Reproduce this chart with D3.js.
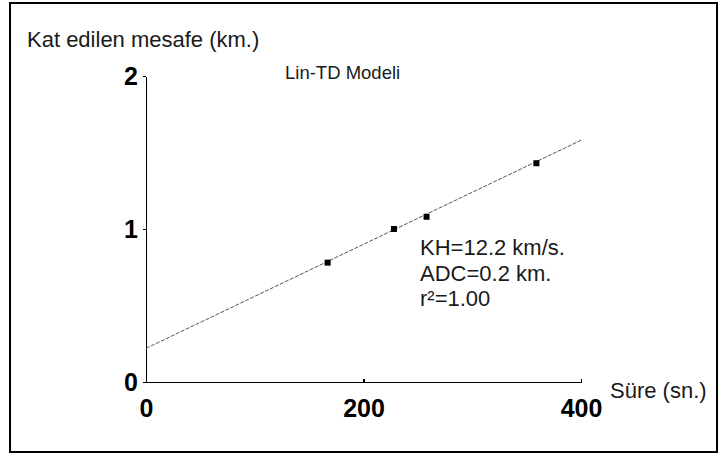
<!DOCTYPE html>
<html>
<head>
  <meta charset="utf-8">
  <title>Lin-TD Modeli</title>
  <script src="https://cdn.jsdelivr.net/npm/d3@7"></script>
  <style>
    body { margin: 0; background: #fff; }
    .lbl { font-family: "Liberation Sans", Arial, sans-serif; fill: #1a1a1a; }
    .tick text { font-family: "Liberation Sans", Arial, sans-serif; font-weight: bold; font-size: 25px; fill: #000; }
    .axis path, .axis line { stroke: #000; stroke-width: 1.3; shape-rendering: crispEdges; }
  </style>
</head>
<body>
<script>
  // Data
  var sureValues = [167, 228, 258, 359];       // Süre (sn.)
  var mesafeValues = [0.78, 1.00, 1.08, 1.43]; // Kat edilen mesafe (km.)
  var fitX = [0, 400];
  var fitY = [0.22, 1.58];
  var xTicks = [0, 200, 400];
  var yTicks = [0, 1, 2];
  var notes = ["KH=12.2 km/s.", "ADC=0.2 km.", "r²=1.00"];

  var width = 720, height = 454;
  var svg = d3.select("body").append("svg")
      .attr("width", width)
      .attr("height", height);

  // outer frame
  svg.append("rect")
      .attr("x", 10).attr("y", 3)
      .attr("width", 707).attr("height", 449)
      .attr("fill", "none")
      .attr("stroke", "#000")
      .attr("stroke-width", 2);

  var x = d3.scaleLinear().domain([0, 400]).range([146, 581]);
  var y = d3.scaleLinear().domain([0, 2]).range([382, 76]);

  // axes
  svg.append("g")
      .attr("class", "axis")
      .attr("transform", "translate(0," + y(0) + ")")
      .call(d3.axisBottom(x).tickValues(xTicks).tickFormat(d3.format("d"))
            .tickSize(-3).tickSizeOuter(0).tickPadding(11))
      .selectAll(".tick text").attr("dy", "0.95em");

  svg.append("g")
      .attr("class", "axis")
      .attr("transform", "translate(" + x(0) + ",0)")
      .call(d3.axisLeft(y).tickValues(yTicks).tickFormat(d3.format("d"))
            .tickSize(3).tickSizeOuter(0).tickPadding(5));

  svg.selectAll(".axis .domain").attr("stroke-width", 1.6);

  // fitted line
  var line = d3.line()
      .x(function(d) { return x(d[0]); })
      .y(function(d) { return y(d[1]); });

  svg.append("path")
      .datum(d3.zip(fitX, fitY))
      .attr("d", line)
      .attr("fill", "none")
      .attr("stroke", "#555")
      .attr("stroke-width", 1)
      .attr("stroke-dasharray", "4,1.5");

  // points
  svg.selectAll("rect.pt")
      .data(d3.zip(sureValues, mesafeValues))
      .enter()
      .append("rect")
      .attr("class", "pt")
      .attr("x", function(d) { return x(d[0]) - 3; })
      .attr("y", function(d) { return y(d[1]) - 3; })
      .attr("width", 6)
      .attr("height", 6)
      .attr("fill", "#000");

  // labels
  svg.append("text")
      .attr("class", "lbl")
      .attr("x", 27).attr("y", 47)
      .style("font-size", "22px")
      .text("Kat edilen mesafe (km.)");

  svg.append("text")
      .attr("class", "lbl")
      .attr("x", 285).attr("y", 79)
      .style("font-size", "18.5px")
      .text("Lin-TD Modeli");

  svg.append("text")
      .attr("class", "lbl")
      .attr("x", 610).attr("y", 398)
      .style("font-size", "22px")
      .text("Süre (sn.)");

  svg.selectAll("text.note")
      .data(notes)
      .enter()
      .append("text")
      .attr("class", "lbl note")
      .attr("x", 420)
      .attr("y", function(d, i) { return 255 + i * 25.5; })
      .style("font-size", "22px")
      .text(function(d) { return d; });
</script>
</body>
</html>
